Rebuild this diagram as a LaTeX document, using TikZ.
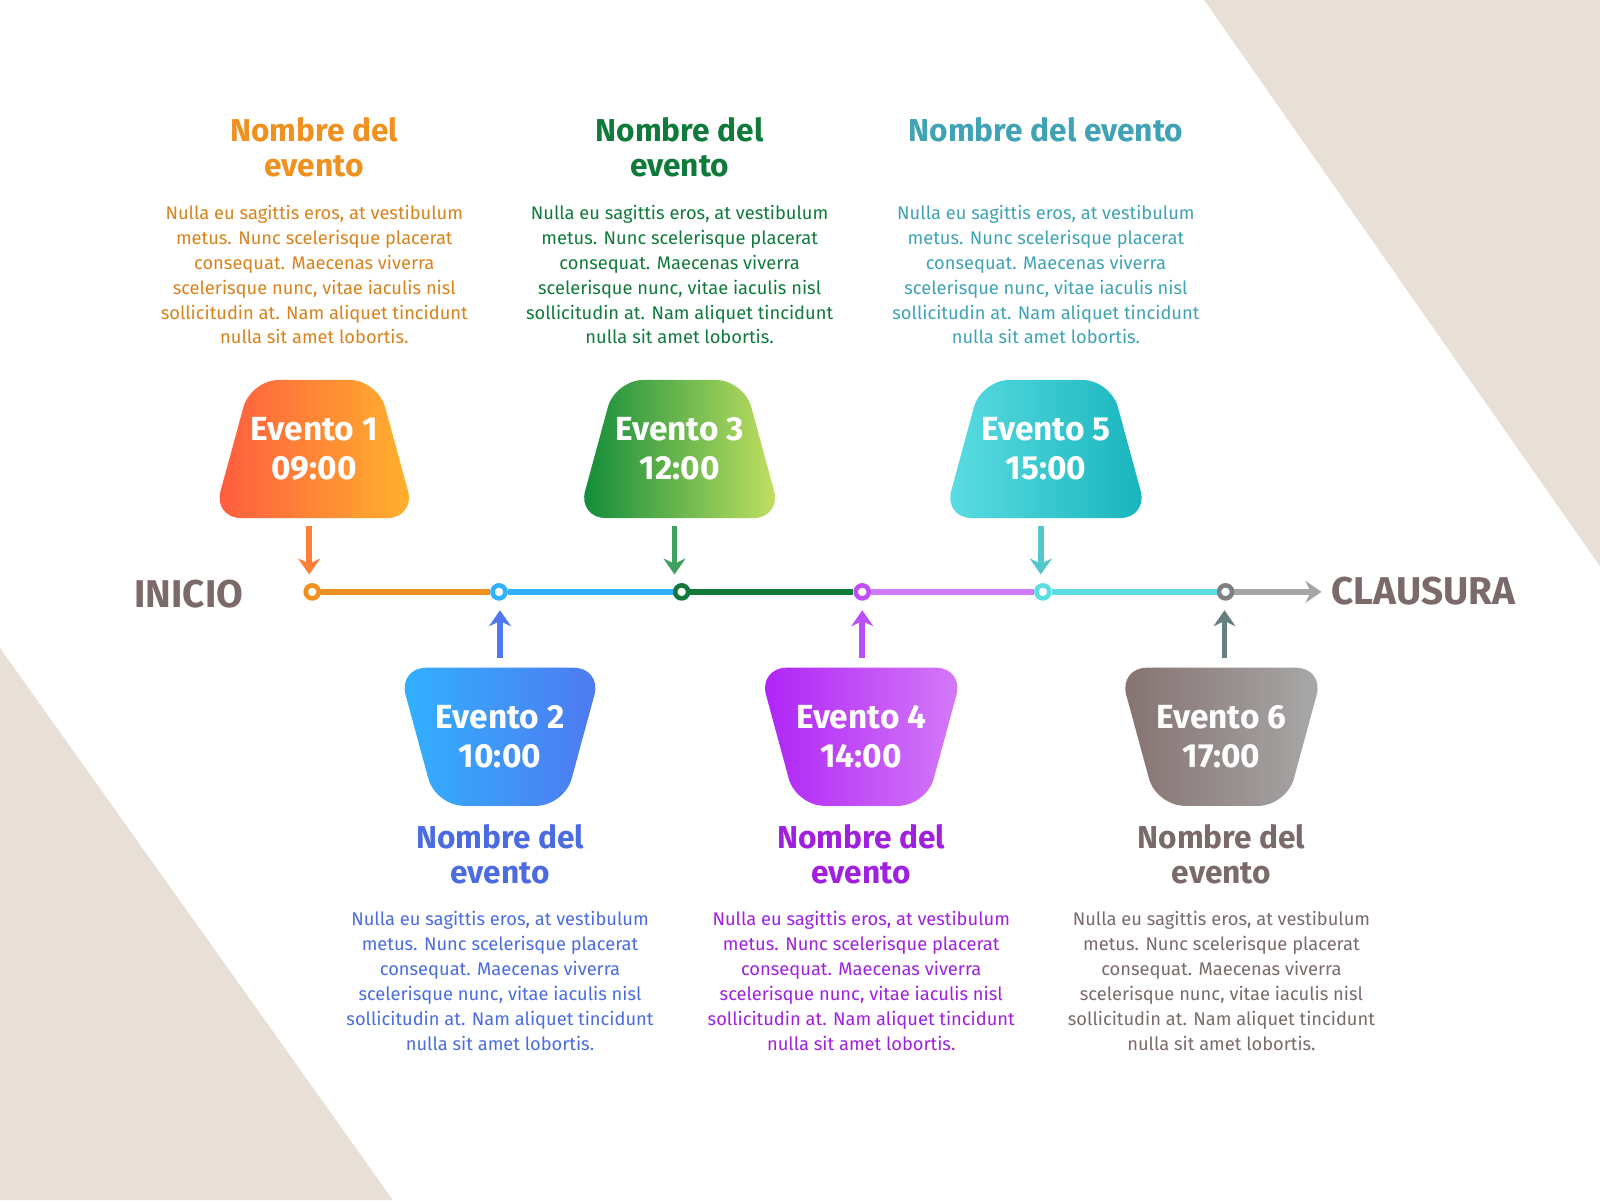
\documentclass[tikz,border=0pt]{standalone}
\usepackage{fontspec}
\setmainfont{Fira Sans}
\usetikzlibrary{shapes.geometric, arrows.meta, positioning}
\definecolor{beige}{HTML}{E8E0D7}
\definecolor{cOne}{HTML}{F0901E}
\definecolor{cTwo}{HTML}{4A6CE0}
\definecolor{cThree}{HTML}{0F7A3A}
\definecolor{cFour}{HTML}{A020E0}
\definecolor{cFive}{HTML}{3FA3B5}
\definecolor{cSix}{HTML}{7A6A6A}
\definecolor{gOneL}{HTML}{FF5A40}\definecolor{gOneR}{HTML}{FFB42C}
\definecolor{gTwoL}{HTML}{30B2FF}\definecolor{gTwoR}{HTML}{5078F0}
\definecolor{gThreeL}{HTML}{0E8A3A}\definecolor{gThreeR}{HTML}{C6E262}
\definecolor{gFourL}{HTML}{AE22F6}\definecolor{gFourR}{HTML}{D57CF8}
\definecolor{gFiveL}{HTML}{5CDDE2}\definecolor{gFiveR}{HTML}{17B4BD}
\definecolor{gSixL}{HTML}{857170}\definecolor{gSixR}{HTML}{A9A9A9}
\newcommand{\bodytext}{Nulla eu sagittis eros, at vestibulum\\metus. Nunc scelerisque placerat\\consequat. Maecenas viverra\\scelerisque nunc, vitae iaculis nisl\\sollicitudin at. Nam aliquet tincidunt\\nulla sit amet lobortis.}
\begin{document}
\begin{tikzpicture}[
    x=0.0102cm, y=-0.0102cm,
    >={Stealth[width=2.2mm,length=1.6mm]},
    trap/.style={trapezium, trapezium angle=59, trapezium stretches=true, minimum width=1.83cm, minimum height=1.38cm,
        rounded corners=8pt, text=white, font=\bfseries\fontsize{9.5}{11}\selectfont, align=center, inner sep=0pt},
    trapdown/.style={trap, shape border rotate=180},
    title/.style={font=\bfseries\fontsize{9}{10}\selectfont, align=center},
    body/.style={font=\fontsize{5.2}{7.1}\selectfont, align=center},
    dot/.style={circle, draw, line width=1.3pt, fill=white, minimum size=0.13cm, inner sep=0pt},
    seg/.style={line width=1.5pt},
    pin/.style={->, line width=1.6pt},
    ends/.style={font=\bfseries\fontsize{11}{12}\selectfont, text=cSix}
]
    \useasboundingbox (0,0) rectangle (1568,1176);
    \fill[beige] (1180,0) -- (1568,0) -- (1568,555) -- cycle;
    \fill[beige] (0,635) -- (0,1176) -- (385,1176) -- cycle;

    % top row
    \node (ev1) [trap, left color=gOneL, right color=gOneR] at (308,440) {Evento 1\\09:00};
    \node (ev3) [trap, left color=gThreeL, right color=gThreeR] at (666,440) {Evento 3\\12:00};
    \node (ev5) [trap, left color=gFiveL, right color=gFiveR] at (1025,440) {Evento 5\\15:00};
    % bottom row
    \node (ev2) [trapdown, left color=gTwoL, right color=gTwoR] at (490,722) {Evento 2\\10:00};
    \node (ev4) [trapdown, left color=gFourL, right color=gFourR] at (844,722) {Evento 4\\14:00};
    \node (ev6) [trapdown, left color=gSixL, right color=gSixR] at (1197,722) {Evento 6\\17:00};

    % titles and texts
    \node (t1) [title, text=cOne] at (308,144) {Nombre del\\evento};
    \node (t3) [title, text=cThree] at (666,144) {Nombre del\\evento};
    \node (t5) [title, text=cFive] at (1025,127) {Nombre del evento};
    \node (b1) [body, text=cOne!90!black] at (308,269) {\bodytext};
    \node (b3) [body, text=cThree] at (666,269) {\bodytext};
    \node (b5) [body, text=cFive] at (1025,269) {\bodytext};
    \node (t2) [title, text=cTwo] at (490,837) {Nombre del\\evento};
    \node (t4) [title, text=cFour] at (844,837) {Nombre del\\evento};
    \node (t6) [title, text=cSix] at (1197,837) {Nombre del\\evento};
    \node (b2) [body, text=cTwo] at (490,961) {\bodytext};
    \node (b4) [body, text=cFour] at (844,961) {\bodytext};
    \node (b6) [body, text=cSix] at (1197,961) {\bodytext};

    % timeline
    \node (inicio) [ends] at (185,582) {INICIO};
    \node (clausura) [ends] at (1395,579) {CLAUSURA};
    \coordinate (tend) at (1295,580);
    \node (d1) [dot, draw=cOne] at (306,580) {};
    \node (d2) [dot, draw=gTwoL] at (489,580) {};
    \node (d3) [dot, draw=cThree] at (668,580) {};
    \node (d4) [dot, draw=gFourL!80!white] at (845,580) {};
    \node (d5) [dot, draw=gFiveL] at (1022,580) {};
    \node (d6) [dot, draw=gray] at (1201,580) {};
    \draw[seg, cOne] (d1) -- (d2);
    \draw[seg, gTwoL] (d2) -- (d3);
    \draw[seg, cThree] (d3) -- (d4);
    \draw[seg, gFourL!60!white] (d4) -- (d5);
    \draw[seg, gFiveL] (d5) -- (d6);
    \draw[seg, gray!70, ->] (d6) -- (tend);

    % pins
    \draw[pin, gOneL!60!gOneR] (303,515) -- (303,563);
    \draw[pin, gThreeL!80!white] (661,515) -- (661,563);
    \draw[pin, gFiveL!90!black] (1020,515) -- (1020,563);
    \draw[pin, gTwoR] (490,645) -- (490,598);
    \draw[pin, gFourL!80!white] (845,645) -- (845,598);
    \draw[pin, gray!80!teal] (1200,645) -- (1200,598);
\end{tikzpicture}
\end{document}
